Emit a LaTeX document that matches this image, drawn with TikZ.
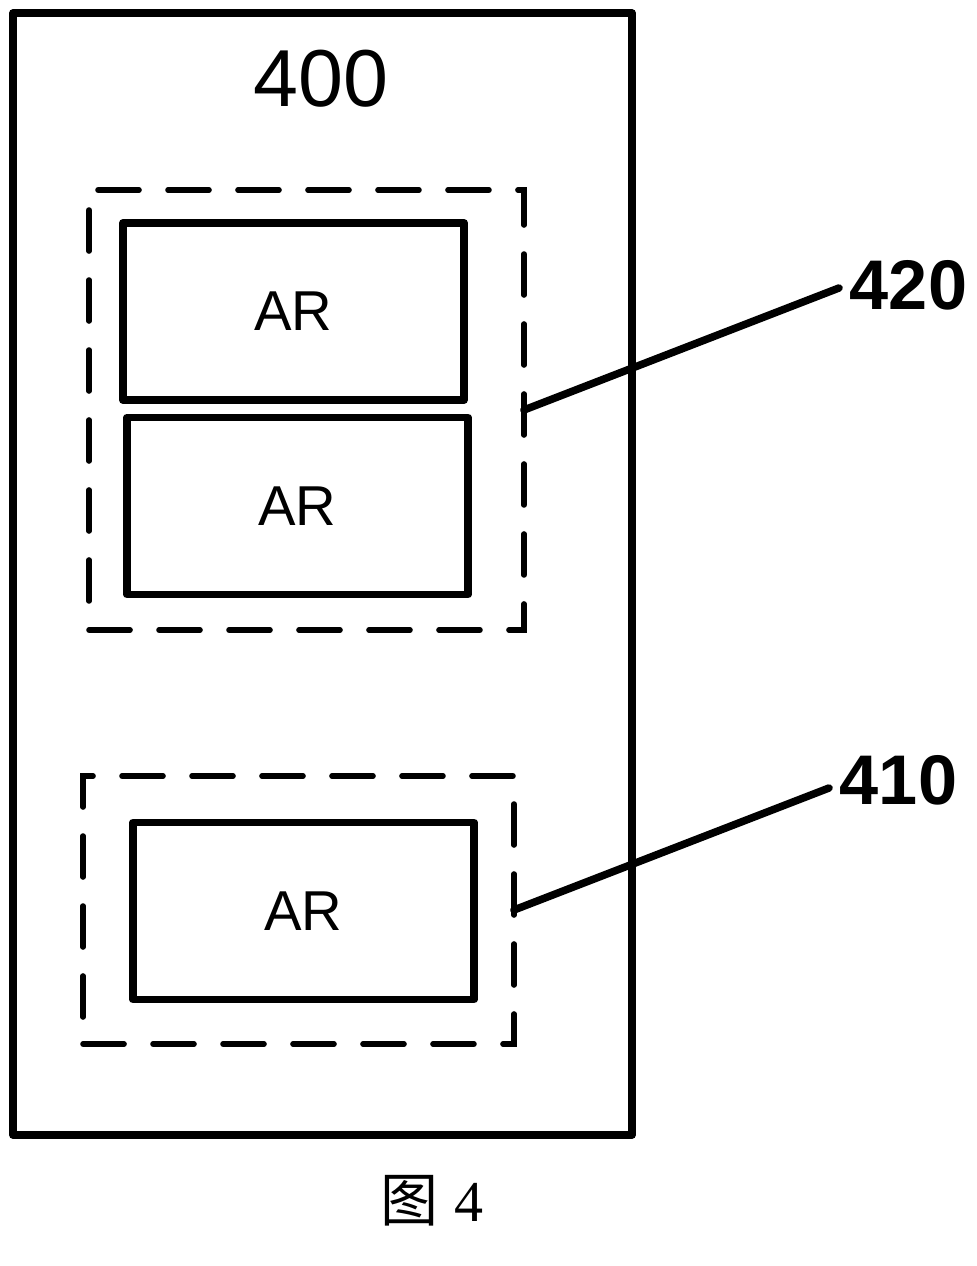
\documentclass[tikz,border=0pt]{standalone}
\usepackage{fontspec}
\setmainfont{Liberation Sans}
\newfontfamily\cjkfont{Noto Sans CJK SC}
\newfontfamily\capfont{Liberation Serif}
\usetikzlibrary{positioning}
\tikzset{
    frame/.style={draw, line width=4.4pt, line join=round, inner sep=0pt},
    arbox/.style={draw, line width=4.5pt, line join=round, minimum width=6.82cm, minimum height=3.54cm, inner sep=0pt, outer sep=0pt, font=\fontsize{32}{36}\selectfont},
    group/.style={draw, line width=3.2pt, line cap=round, dash pattern=on 0.82cm off 0.58cm, inner sep=0pt, outer sep=0pt},
    leader/.style={draw, line width=4.3pt, line cap=round},
    reflabel/.style={font=\bfseries\fontsize{40}{44}\selectfont, inner sep=6pt, anchor=west}
}

\begin{document}
\begin{tikzpicture}[x=0.02cm, y=-0.02cm]
    \useasboundingbox (0,0) rectangle (976,1266);

    % Nodes
    \node[frame, minimum width=12.38cm, minimum height=22.44cm] (device) at (322.5,574) {};
    \node[font=\fontsize{46}{50}\selectfont] (title) at (321,78.5) {400};

    \node[group, minimum width=8.7cm, minimum height=8.8cm] (grp420) at (306.5,410) {};
    \node[arbox] (ar1) at (293.5,311.5) {AR};
    \node[arbox] (ar2) at (297.5,506) {AR};

    \node[group, minimum width=8.62cm, minimum height=5.36cm] (grp410) at (298.5,910) {};
    \node[arbox] (ar3) at (303.5,911) {AR};

    \node[reflabel] (lab420) at (839,285) {420};
    \node[reflabel] (lab410) at (829,780) {410};

    \node[font=\fontsize{33}{36}\selectfont] (caption) at (432,1201) {{\cjkfont 图} {\capfont 4}};

    % edges
    \draw[leader] (grp420.east) -- ([yshift=-0.06cm]lab420.west);
    \draw[leader] (grp410.east) -- ([yshift=-0.16cm]lab410.west);
\end{tikzpicture}
\end{document}
